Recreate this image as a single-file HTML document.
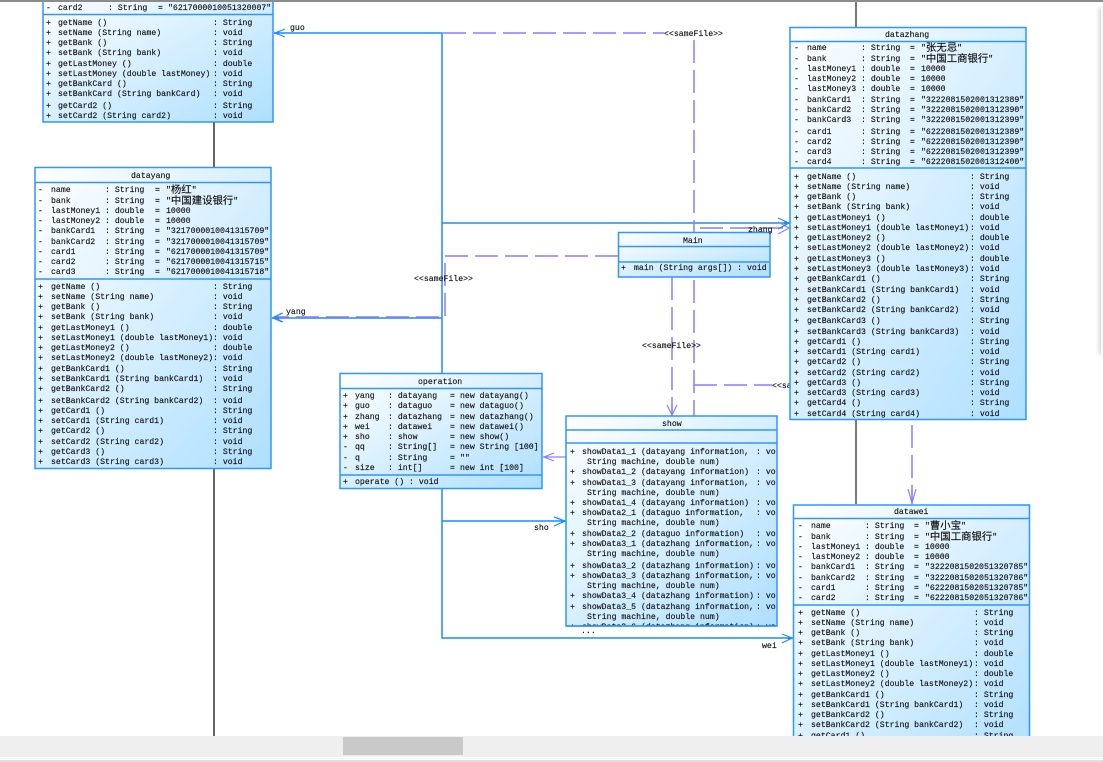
<!DOCTYPE html>
<html><head><meta charset="utf-8"><style>
html,body{margin:0;padding:0;background:#fff;width:1103px;height:762px;overflow:hidden}
svg{display:block;position:absolute;left:0;top:0}
text{font-family:"Liberation Mono","Noto Sans CJK SC",monospace;font-size:8.2px;fill:#111;stroke:#111;stroke-width:.14px;white-space:pre}
.c{font-size:10.4px;baseline-shift:-1px}
.blur{filter:blur(.38px)}
.box{stroke:#2f95ff;stroke-width:1.5}
.sl{fill:none;stroke:#1a8cff;stroke-width:1.5}
.dl{fill:none;stroke:#8a7dff;stroke-width:1.5;stroke-dasharray:23 7}
.pl{fill:none;stroke:#8a7dff;stroke-width:1.2}
.bl{fill:none;stroke:#1a8cff;stroke-width:1.2}
</style></head><body>
<svg width="1103" height="762" viewBox="0 0 1103 762" xmlns="http://www.w3.org/2000/svg">
<defs>
<linearGradient id="g" x1="0" y1="0" x2="1" y2="1"><stop offset="0" stop-color="#fff"/><stop offset="1" stop-color="#aedfff"/></linearGradient>
<clipPath id="cs"><rect x="566" y="416" width="210" height="210"/></clipPath>
<filter id="sh" x="-50%" y="-5%" width="200%" height="110%"><feGaussianBlur stdDeviation="2"/></filter>
</defs>
<g class="blur">
<!-- lifelines -->
<path d="M214 122V167M214 468V736" stroke="#111" stroke-width="1.3" fill="none"/>
<path d="M856 0V27M856 420V504" stroke="#333" stroke-width="1.3" fill="none"/>
<!-- connectors -->
<path class="sl" d="M274 33H442V373M442 488V638H793M442 521H566M272 318H442M442 223H790"/>
<path class="dl" d="M443 33H664"/>
<path class="dl" d="M694 40V416"/>
<path class="dl" d="M694 385H772"/>
<path class="dl" d="M618 256H445V317H274"/>
<path class="dl" d="M672 277V416"/>
<path class="dl" d="M700 228H790"/>
<path class="dl" d="M912 425V504"/>
<path class="pl" d="M543 457H566M554 453L544 457L554 461"/>
<path class="pl" d="M667 405L672 415L677 405M672 405V415"/>
<path class="pl" d="M908 489L912 503L916 489M912 489V503"/>
<path class="pl" d="M778 222L789 228L778 234"/>
<path class="pl" d="M283 313L274 317L283 322"/>
<path class="bl" d="M285 29L275 33L285 37"/>
<path class="bl" d="M282 313L273 318L282 322"/>
<path class="bl" d="M778 218L789 223L778 229"/>
<path class="bl" d="M554 517L565 521L554 526"/>
<path class="bl" d="M782 634L792 638L782 643"/>
<path d="M274 33l5-1.5v3zM273 318l6-1.5v3zM790 223l-6-1.500v3zM566 521l-5-1.500v3zM793 638l-5-1.500v3z" fill="#1a8cff"/>
<text x="772" y="388">&lt;&lt;sameFile&gt;&gt;</text>

<!-- dataguo -->
<rect class="box" x="43" y="-10" width="230" height="132" fill="url(#g)"/>
<path class="box" d="M43 14.500H273"/>
<text y="10"><tspan x="46">-</tspan><tspan x="58">card2</tspan><tspan x="108">: String</tspan><tspan x="158">=</tspan><tspan x="168">"6217000010051320007"</tspan></text>
<text y="25"><tspan x="46">+</tspan><tspan x="58">getName ()</tspan><tspan x="213">: String</tspan></text>
<text y="35"><tspan x="46">+</tspan><tspan x="58">setName (String name)</tspan><tspan x="213">: void</tspan></text>
<text y="45"><tspan x="46">+</tspan><tspan x="58">getBank ()</tspan><tspan x="213">: String</tspan></text>
<text y="55"><tspan x="46">+</tspan><tspan x="58">setBank (String bank)</tspan><tspan x="213">: void</tspan></text>
<text y="66"><tspan x="46">+</tspan><tspan x="58">getLastMoney ()</tspan><tspan x="213">: double</tspan></text>
<text y="76"><tspan x="46">+</tspan><tspan x="58">setLastMoney (double lastMoney)</tspan><tspan x="213">: void</tspan></text>
<text y="86"><tspan x="46">+</tspan><tspan x="58">getBankCard ()</tspan><tspan x="213">: String</tspan></text>
<text y="96"><tspan x="46">+</tspan><tspan x="58">setBankCard (String bankCard)</tspan><tspan x="213">: void</tspan></text>
<text y="108"><tspan x="46">+</tspan><tspan x="58">getCard2 ()</tspan><tspan x="213">: String</tspan></text>
<text y="118"><tspan x="46">+</tspan><tspan x="58">setCard2 (String card2)</tspan><tspan x="213">: void</tspan></text>

<!-- datayang -->
<rect class="box" x="35" y="167.500" width="236" height="301" fill="url(#g)"/>
<path class="box" d="M35 182.500H271M35 279H271"/>
<text x="131" y="178">datayang</text>
<text y="192"><tspan x="38">-</tspan><tspan x="51">name</tspan><tspan x="105">: String</tspan><tspan x="155">=</tspan><tspan x="166">"<tspan class="c">杨红</tspan>"</tspan></text>
<text y="203"><tspan x="38">-</tspan><tspan x="51">bank</tspan><tspan x="105">: String</tspan><tspan x="155">=</tspan><tspan x="166">"<tspan class="c">中国建设银行</tspan>"</tspan></text>
<text y="213"><tspan x="38">-</tspan><tspan x="51">lastMoney1</tspan><tspan x="105">: double</tspan><tspan x="155">=</tspan><tspan x="166">10000</tspan></text>
<text y="223"><tspan x="38">-</tspan><tspan x="51">lastMoney2</tspan><tspan x="105">: double</tspan><tspan x="155">=</tspan><tspan x="166">10000</tspan></text>
<text y="233"><tspan x="38">-</tspan><tspan x="51">bankCard1</tspan><tspan x="105">: String</tspan><tspan x="155">=</tspan><tspan x="166">"3217000010041315709"</tspan></text>
<text y="244"><tspan x="38">-</tspan><tspan x="51">bankCard2</tspan><tspan x="105">: String</tspan><tspan x="155">=</tspan><tspan x="166">"3217000010041315709"</tspan></text>
<text y="254"><tspan x="38">-</tspan><tspan x="51">card1</tspan><tspan x="105">: String</tspan><tspan x="155">=</tspan><tspan x="166">"6217000010041315709"</tspan></text>
<text y="264"><tspan x="38">-</tspan><tspan x="51">card2</tspan><tspan x="105">: String</tspan><tspan x="155">=</tspan><tspan x="166">"6217000010041315715"</tspan></text>
<text y="274"><tspan x="38">-</tspan><tspan x="51">card3</tspan><tspan x="105">: String</tspan><tspan x="155">=</tspan><tspan x="166">"6217000010041315718"</tspan></text>
<text y="289"><tspan x="38">+</tspan><tspan x="51">getName ()</tspan><tspan x="213">: String</tspan></text>
<text y="299"><tspan x="38">+</tspan><tspan x="51">setName (String name)</tspan><tspan x="213">: void</tspan></text>
<text y="309"><tspan x="38">+</tspan><tspan x="51">getBank ()</tspan><tspan x="213">: String</tspan></text>
<text y="319"><tspan x="38">+</tspan><tspan x="51">setBank (String bank)</tspan><tspan x="213">: void</tspan></text>
<text y="330"><tspan x="38">+</tspan><tspan x="51">getLastMoney1 ()</tspan><tspan x="213">: double</tspan></text>
<text y="340"><tspan x="38">+</tspan><tspan x="51">setLastMoney1 (double lastMoney1)</tspan><tspan x="213">: void</tspan></text>
<text y="350"><tspan x="38">+</tspan><tspan x="51">getLastMoney2 ()</tspan><tspan x="213">: double</tspan></text>
<text y="360"><tspan x="38">+</tspan><tspan x="51">setLastMoney2 (double lastMoney2)</tspan><tspan x="213">: void</tspan></text>
<text y="371"><tspan x="38">+</tspan><tspan x="51">getBankCard1 ()</tspan><tspan x="213">: String</tspan></text>
<text y="381"><tspan x="38">+</tspan><tspan x="51">setBankCard1 (String bankCard1)</tspan><tspan x="213">: void</tspan></text>
<text y="391"><tspan x="38">+</tspan><tspan x="51">getBankCard2 ()</tspan><tspan x="213">: String</tspan></text>
<text y="403"><tspan x="38">+</tspan><tspan x="51">setBankCard2 (String bankCard2)</tspan><tspan x="213">: void</tspan></text>
<text y="413"><tspan x="38">+</tspan><tspan x="51">getCard1 ()</tspan><tspan x="213">: String</tspan></text>
<text y="423"><tspan x="38">+</tspan><tspan x="51">setCard1 (String card1)</tspan><tspan x="213">: void</tspan></text>
<text y="433"><tspan x="38">+</tspan><tspan x="51">getCard2 ()</tspan><tspan x="213">: String</tspan></text>
<text y="444"><tspan x="38">+</tspan><tspan x="51">setCard2 (String card2)</tspan><tspan x="213">: void</tspan></text>
<text y="454"><tspan x="38">+</tspan><tspan x="51">getCard3 ()</tspan><tspan x="213">: String</tspan></text>
<text y="464"><tspan x="38">+</tspan><tspan x="51">setCard3 (String card3)</tspan><tspan x="213">: void</tspan></text>

<!-- datazhang -->
<rect class="box" x="790" y="27.500" width="236" height="392" fill="url(#g)"/>
<path class="box" d="M790 41.500H1026M790 168H1026"/>
<text x="885" y="37">datazhang</text>
<text y="50"><tspan x="794">-</tspan><tspan x="807">name</tspan><tspan x="861">: String</tspan><tspan x="910">=</tspan><tspan x="921">"<tspan class="c">张无忌</tspan>"</tspan></text>
<text y="61"><tspan x="794">-</tspan><tspan x="807">bank</tspan><tspan x="861">: String</tspan><tspan x="910">=</tspan><tspan x="921">"<tspan class="c">中国工商银行</tspan>"</tspan></text>
<text y="71"><tspan x="794">-</tspan><tspan x="807">lastMoney1</tspan><tspan x="861">: double</tspan><tspan x="910">=</tspan><tspan x="921">10000</tspan></text>
<text y="81"><tspan x="794">-</tspan><tspan x="807">lastMoney2</tspan><tspan x="861">: double</tspan><tspan x="910">=</tspan><tspan x="921">10000</tspan></text>
<text y="91"><tspan x="794">-</tspan><tspan x="807">lastMoney3</tspan><tspan x="861">: double</tspan><tspan x="910">=</tspan><tspan x="921">10000</tspan></text>
<text y="102"><tspan x="794">-</tspan><tspan x="807">bankCard1</tspan><tspan x="861">: String</tspan><tspan x="910">=</tspan><tspan x="921">"3222081502001312389"</tspan></text>
<text y="112"><tspan x="794">-</tspan><tspan x="807">bankCard2</tspan><tspan x="861">: String</tspan><tspan x="910">=</tspan><tspan x="921">"3222081502001312390"</tspan></text>
<text y="122"><tspan x="794">-</tspan><tspan x="807">bankCard3</tspan><tspan x="861">: String</tspan><tspan x="910">=</tspan><tspan x="921">"3222081502001312399"</tspan></text>
<text y="134"><tspan x="794">-</tspan><tspan x="807">card1</tspan><tspan x="861">: String</tspan><tspan x="910">=</tspan><tspan x="921">"6222081502001312389"</tspan></text>
<text y="144"><tspan x="794">-</tspan><tspan x="807">card2</tspan><tspan x="861">: String</tspan><tspan x="910">=</tspan><tspan x="921">"6222081502001312390"</tspan></text>
<text y="154"><tspan x="794">-</tspan><tspan x="807">card3</tspan><tspan x="861">: String</tspan><tspan x="910">=</tspan><tspan x="921">"6222081502001312399"</tspan></text>
<text y="164"><tspan x="794">-</tspan><tspan x="807">card4</tspan><tspan x="861">: String</tspan><tspan x="910">=</tspan><tspan x="921">"6222081502001312400"</tspan></text>
<text y="179"><tspan x="794">+</tspan><tspan x="807">getName ()</tspan><tspan x="970">: String</tspan></text>
<text y="189"><tspan x="794">+</tspan><tspan x="807">setName (String name)</tspan><tspan x="970">: void</tspan></text>
<text y="199"><tspan x="794">+</tspan><tspan x="807">getBank ()</tspan><tspan x="970">: String</tspan></text>
<text y="209"><tspan x="794">+</tspan><tspan x="807">setBank (String bank)</tspan><tspan x="970">: void</tspan></text>
<text y="220"><tspan x="794">+</tspan><tspan x="807">getLastMoney1 ()</tspan><tspan x="970">: double</tspan></text>
<text y="230"><tspan x="794">+</tspan><tspan x="807">setLastMoney1 (double lastMoney1)</tspan><tspan x="970">: void</tspan></text>
<text y="240"><tspan x="794">+</tspan><tspan x="807">getLastMoney2 ()</tspan><tspan x="970">: double</tspan></text>
<text y="250"><tspan x="794">+</tspan><tspan x="807">setLastMoney2 (double lastMoney2)</tspan><tspan x="970">: void</tspan></text>
<text y="261"><tspan x="794">+</tspan><tspan x="807">getLastMoney3 ()</tspan><tspan x="970">: double</tspan></text>
<text y="271"><tspan x="794">+</tspan><tspan x="807">setLastMoney3 (double lastMoney3)</tspan><tspan x="970">: void</tspan></text>
<text y="281"><tspan x="794">+</tspan><tspan x="807">getBankCard1 ()</tspan><tspan x="970">: String</tspan></text>
<text y="292"><tspan x="794">+</tspan><tspan x="807">setBankCard1 (String bankCard1)</tspan><tspan x="970">: void</tspan></text>
<text y="302"><tspan x="794">+</tspan><tspan x="807">getBankCard2 ()</tspan><tspan x="970">: String</tspan></text>
<text y="312"><tspan x="794">+</tspan><tspan x="807">setBankCard2 (String bankCard2)</tspan><tspan x="970">: void</tspan></text>
<text y="323"><tspan x="794">+</tspan><tspan x="807">getBankCard3 ()</tspan><tspan x="970">: String</tspan></text>
<text y="334"><tspan x="794">+</tspan><tspan x="807">setBankCard3 (String bankCard3)</tspan><tspan x="970">: void</tspan></text>
<text y="344"><tspan x="794">+</tspan><tspan x="807">getCard1 ()</tspan><tspan x="970">: String</tspan></text>
<text y="354"><tspan x="794">+</tspan><tspan x="807">setCard1 (String card1)</tspan><tspan x="970">: void</tspan></text>
<text y="364"><tspan x="794">+</tspan><tspan x="807">getCard2 ()</tspan><tspan x="970">: String</tspan></text>
<text y="375"><tspan x="794">+</tspan><tspan x="807">setCard2 (String card2)</tspan><tspan x="970">: void</tspan></text>
<text y="385"><tspan x="794">+</tspan><tspan x="807">getCard3 ()</tspan><tspan x="970">: String</tspan></text>
<text y="395"><tspan x="794">+</tspan><tspan x="807">setCard3 (String card3)</tspan><tspan x="970">: void</tspan></text>
<text y="405"><tspan x="794">+</tspan><tspan x="807">getCard4 ()</tspan><tspan x="970">: String</tspan></text>
<text y="416"><tspan x="794">+</tspan><tspan x="807">setCard4 (String card4)</tspan><tspan x="970">: void</tspan></text>

<!-- datawei -->
<rect class="box" x="793.500" y="505" width="236" height="260" fill="url(#g)"/>
<path class="box" d="M793 518.500H1030M793 605H1030"/>
<text x="894" y="514">datawei</text>
<text y="528"><tspan x="798">-</tspan><tspan x="811">name</tspan><tspan x="865">: String</tspan><tspan x="914">=</tspan><tspan x="925">"<tspan class="c">曹小宝</tspan>"</tspan></text>
<text y="539"><tspan x="798">-</tspan><tspan x="811">bank</tspan><tspan x="865">: String</tspan><tspan x="914">=</tspan><tspan x="925">"<tspan class="c">中国工商银行</tspan>"</tspan></text>
<text y="549"><tspan x="798">-</tspan><tspan x="811">lastMoney1</tspan><tspan x="865">: double</tspan><tspan x="914">=</tspan><tspan x="925">10000</tspan></text>
<text y="559"><tspan x="798">-</tspan><tspan x="811">lastMoney2</tspan><tspan x="865">: double</tspan><tspan x="914">=</tspan><tspan x="925">10000</tspan></text>
<text y="569"><tspan x="798">-</tspan><tspan x="811">bankCard1</tspan><tspan x="865">: String</tspan><tspan x="914">=</tspan><tspan x="925">"3222081502051320785"</tspan></text>
<text y="580"><tspan x="798">-</tspan><tspan x="811">bankCard2</tspan><tspan x="865">: String</tspan><tspan x="914">=</tspan><tspan x="925">"3222081502051320786"</tspan></text>
<text y="590"><tspan x="798">-</tspan><tspan x="811">card1</tspan><tspan x="865">: String</tspan><tspan x="914">=</tspan><tspan x="925">"6222081502051320785"</tspan></text>
<text y="600"><tspan x="798">-</tspan><tspan x="811">card2</tspan><tspan x="865">: String</tspan><tspan x="914">=</tspan><tspan x="925">"6222081502051320786"</tspan></text>
<text y="615"><tspan x="798">+</tspan><tspan x="811">getName ()</tspan><tspan x="974">: String</tspan></text>
<text y="625"><tspan x="798">+</tspan><tspan x="811">setName (String name)</tspan><tspan x="974">: void</tspan></text>
<text y="635"><tspan x="798">+</tspan><tspan x="811">getBank ()</tspan><tspan x="974">: String</tspan></text>
<text y="645"><tspan x="798">+</tspan><tspan x="811">setBank (String bank)</tspan><tspan x="974">: void</tspan></text>
<text y="656"><tspan x="798">+</tspan><tspan x="811">getLastMoney1 ()</tspan><tspan x="974">: double</tspan></text>
<text y="666"><tspan x="798">+</tspan><tspan x="811">setLastMoney1 (double lastMoney1)</tspan><tspan x="974">: void</tspan></text>
<text y="676"><tspan x="798">+</tspan><tspan x="811">getLastMoney2 ()</tspan><tspan x="974">: double</tspan></text>
<text y="686"><tspan x="798">+</tspan><tspan x="811">setLastMoney2 (double lastMoney2)</tspan><tspan x="974">: void</tspan></text>
<text y="697"><tspan x="798">+</tspan><tspan x="811">getBankCard1 ()</tspan><tspan x="974">: String</tspan></text>
<text y="707"><tspan x="798">+</tspan><tspan x="811">setBankCard1 (String bankCard1)</tspan><tspan x="974">: void</tspan></text>
<text y="717"><tspan x="798">+</tspan><tspan x="811">getBankCard2 ()</tspan><tspan x="974">: String</tspan></text>
<text y="727"><tspan x="798">+</tspan><tspan x="811">setBankCard2 (String bankCard2)</tspan><tspan x="974">: void</tspan></text>
<text y="738"><tspan x="798">+</tspan><tspan x="811">getCard1 ()</tspan><tspan x="974">: String</tspan></text>

<!-- operation -->
<rect class="box" x="340" y="373.500" width="202" height="115" fill="url(#g)"/>
<path class="box" d="M340 388.500H542M340 475H542"/>
<text x="418" y="384">operation</text>
<text y="398"><tspan x="343">+</tspan><tspan x="355">yang</tspan><tspan x="388">: datayang</tspan><tspan x="450">=</tspan><tspan x="460">new datayang()</tspan></text>
<text y="408"><tspan x="343">+</tspan><tspan x="355">guo</tspan><tspan x="388">: dataguo</tspan><tspan x="450">=</tspan><tspan x="460">new dataguo()</tspan></text>
<text y="419"><tspan x="343">+</tspan><tspan x="355">zhang</tspan><tspan x="388">: datazhang</tspan><tspan x="450">=</tspan><tspan x="460">new datazhang()</tspan></text>
<text y="429"><tspan x="343">+</tspan><tspan x="355">wei</tspan><tspan x="388">: datawei</tspan><tspan x="450">=</tspan><tspan x="460">new datawei()</tspan></text>
<text y="439"><tspan x="343">+</tspan><tspan x="355">sho</tspan><tspan x="388">: show</tspan><tspan x="450">=</tspan><tspan x="460">new show()</tspan></text>
<text y="449"><tspan x="343">-</tspan><tspan x="355">qq</tspan><tspan x="388">: String[]</tspan><tspan x="450">=</tspan><tspan x="460">new String [100]</tspan></text>
<text y="460"><tspan x="343">-</tspan><tspan x="355">q</tspan><tspan x="388">: String</tspan><tspan x="450">=</tspan><tspan x="460">""</tspan></text>
<text y="470"><tspan x="343">-</tspan><tspan x="355">size</tspan><tspan x="388">: int[]</tspan><tspan x="450">=</tspan><tspan x="460">new int [100]</tspan></text>
<text y="484"><tspan x="343">+</tspan><tspan x="355">operate () : void</tspan></text>

<!-- show -->
<rect class="box" x="566" y="416" width="211" height="210" fill="url(#g)"/>
<path class="box" d="M566 430H777M566 443H777"/>
<text x="662" y="426">show</text>
<g clip-path="url(#cs)">
<text y="454"><tspan x="570">+</tspan><tspan x="582">showData1_1 (datayang information,</tspan><tspan x="756">: void</tspan></text>
<text x="587" y="464">String machine, double num)</text>
<text y="474"><tspan x="570">+</tspan><tspan x="582">showData1_2 (datayang information)</tspan><tspan x="756">: void</tspan></text>
<text y="485"><tspan x="570">+</tspan><tspan x="582">showData1_3 (datayang information,</tspan><tspan x="756">: void</tspan></text>
<text x="587" y="495">String machine, double num)</text>
<text y="505"><tspan x="570">+</tspan><tspan x="582">showData1_4 (datayang information)</tspan><tspan x="756">: void</tspan></text>
<text y="515"><tspan x="570">+</tspan><tspan x="582">showData2_1 (dataguo information,</tspan><tspan x="756">: void</tspan></text>
<text x="587" y="525">String machine, double num)</text>
<text y="536"><tspan x="570">+</tspan><tspan x="582">showData2_2 (dataguo information)</tspan><tspan x="756">: void</tspan></text>
<text y="546"><tspan x="570">+</tspan><tspan x="582">showData3_1 (datazhang information,</tspan><tspan x="756">: void</tspan></text>
<text x="587" y="556">String machine, double num)</text>
<text y="568"><tspan x="570">+</tspan><tspan x="582">showData3_2 (datazhang information)</tspan><tspan x="756">: void</tspan></text>
<text y="578"><tspan x="570">+</tspan><tspan x="582">showData3_3 (datazhang information,</tspan><tspan x="756">: void</tspan></text>
<text x="587" y="588">String machine, double num)</text>
<text y="598"><tspan x="570">+</tspan><tspan x="582">showData3_4 (datazhang information)</tspan><tspan x="756">: void</tspan></text>
<text y="609"><tspan x="570">+</tspan><tspan x="582">showData3_5 (datazhang information,</tspan><tspan x="756">: void</tspan></text>
<text x="587" y="619">String machine, double num)</text>
<text y="629"><tspan x="570">+</tspan><tspan x="582">showData3_6 (datazhang information)</tspan><tspan x="756">: void</tspan></text>
</g>
<path class="box" d="M566 626H777"/>
<text x="581" y="633">...</text>

<!-- Main -->
<rect class="box" x="618.500" y="232.500" width="151.500" height="44.500" fill="url(#g)"/>
<path class="box" d="M618 246.500H770M618 262H770"/>
<text x="683" y="243">Main</text>
<text y="270"><tspan x="621">+</tspan><tspan x="634">main (String args[]) : void</tspan></text>

<!-- labels -->
<text x="290" y="30">guo</text>
<text x="664" y="36">&lt;&lt;sameFile&gt;&gt;</text>
<text x="414" y="281">&lt;&lt;sameFile&gt;&gt;</text>
<text x="642" y="348">&lt;&lt;sameFile&gt;&gt;</text>
<text x="748" y="232">zhang</text>
<text x="286" y="314">yang</text>
<text x="534" y="530">sho</text>
<text x="762" y="648">wei</text>
</g>
<!-- window chrome -->
<rect x="0" y="0" width="1103" height="2" fill="#8c8c8c"/>
<rect x="1099" y="8" width="8" height="346" fill="#d4d4d4" filter="url(#sh)"/>
<rect x="1101" y="7" width="2" height="348" fill="#f7f7f7"/>
<rect x="0" y="736" width="1103" height="26" fill="#fff"/>
<rect x="0" y="736" width="1103" height="21" fill="#efefef"/>
<rect x="343" y="737" width="120" height="18" fill="#c9c9c9"/>
<rect x="0" y="758" width="1103" height="1" fill="#f4f4f4"/>
<rect x="0" y="760" width="1103" height="2" fill="#dfdfdf"/>
</svg>
</body></html>
